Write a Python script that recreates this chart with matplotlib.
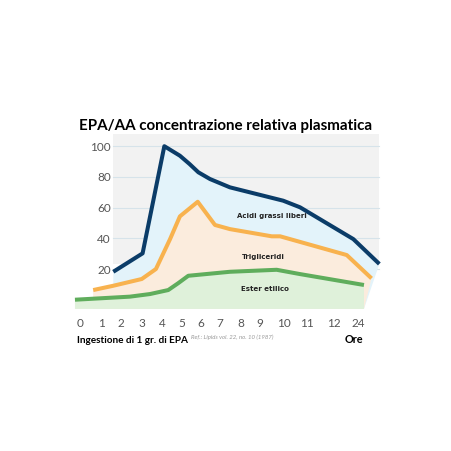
import numpy as np
import matplotlib.pyplot as plt

# Time axis: tick labels and where they sit along the (uneven) time axis
hour_labels = ['0', '1', '2', '3', '4', '5', '6', '7', '8', '9', '10', '11', '12', '24']
hour_pos = [0, 1.03, 1.98, 2.99, 4.01, 4.94, 5.88, 6.80, 7.81, 8.76, 9.94, 11.03, 12.38, 13.57]

# EPA/AA values
acidi_x = [1.60, 3.03, 4.09, 4.85, 5.32, 5.75, 6.32, 7.29, 9.89, 10.71, 13.31, 14.58]
acidi_y = [18.2, 30.2, 100, 93.8, 88.4, 83, 78.6, 73.2, 64.5, 60.2, 39.5, 23.3]

trigl_x = [0.62, 1.60, 2.99, 3.68, 4.37, 4.85, 5.72, 6.56, 7.29, 9.33, 9.74, 12.99, 14.20]
trigl_y = [6.3, 9.1, 13.5, 20, 39.5, 54.3, 63.8, 48.7, 46, 41.3, 41.3, 29.1, 13.9]

ester_x = [-0.27, 2.41, 3.39, 4.28, 4.76, 5.26, 7.29, 9.57, 10.71, 13.83]
ester_y = [0, 2, 3.7, 6.3, 10.7, 15.6, 18.2, 19.5, 16.7, 9.6]

y_ticks = [20, 40, 60, 80, 100]

# Colours
blue = '#0b3c68'
orange = '#f8b24e'
green = '#5fad5c'
blue_fill = '#e3f3fa'
orange_fill = '#fbecdd'
green_fill = '#dff1da'

fill_bottom = -6
fill_right = 13.83


def area(ax, xs, ys, line_color, fill_color, z):
    # polygon: the curve, then down to the base line
    px = list(xs) + [fill_right, xs[0]]
    py = list(ys) + [fill_bottom, fill_bottom]
    ax.fill(px, py, color=fill_color, lw=0, zorder=z)
    ax.plot(xs, ys, color=line_color, lw=2.9, solid_joinstyle='round',
            solid_capstyle='butt', zorder=z + 5)


fig = plt.figure(figsize=(4.52, 4.52), dpi=100)
# axes placed in pixels: x 70..390, y 130..315
ax = fig.add_axes([70 / 452, 1 - 315 / 452, 320 / 452, 185 / 452])
ax.set_xlim(-0.512, 15.10)
ax.set_ylim(-9.3, 111.2)

# grey panel and grid (panel stops where the blue curve ends)
ax.fill_between([acidi_x[0], acidi_x[-1]], acidi_y[-1], 108, color='#f2f2f2', lw=0, zorder=0)
for yv in y_ticks:
    ax.plot([acidi_x[0], acidi_x[-1]], [yv, yv], color='#d6e3ea', lw=0.8, zorder=1)
    ax.text(1.47, yv, str(yv), ha='right', va='center', fontsize=8.5,
            color='#555555', family='Lato')

area(ax, acidi_x, acidi_y, blue, blue_fill, 2)
area(ax, trigl_x, trigl_y, orange, orange_fill, 3)
area(ax, ester_x, ester_y, green, green_fill, 4)

ax.text(9.32, 55.5, 'Acidi grassi liberi', ha='center', va='center',
        fontsize=5, fontweight='bold', color='#222222', zorder=20)
ax.text(8.92, 28.7, 'Trigliceridi', ha='center', va='center',
        fontsize=5, fontweight='bold', color='#222222', zorder=20)
ax.text(9.0, 7.7, 'Ester etilico', ha='center', va='center',
        fontsize=5, fontweight='bold', color='#222222', zorder=20)

ax.set_xticks(hour_pos)
ax.set_xticklabels(hour_labels, family='Lato', fontsize=8.5, color='#555555')
ax.tick_params(axis='x', length=0, pad=2)
ax.set_yticks([])
for s in ax.spines.values():
    s.set_visible(False)

fig.text(226 / 452, 1 - 126 / 452, 'EPA/AA concentrazione relativa plasmatica',
         ha='center', va='center', fontsize=10.9, fontweight='bold', family='Lato')
fig.text(77 / 452, 1 - 341 / 452, 'Ingestione di 1 gr. di EPA',
         ha='left', va='center', fontsize=7.2, fontweight='bold', family='Lato')
fig.text(191 / 452, 1 - 337 / 452, 'Ref.: Lipids vol. 22, no. 10 (1987)',
         ha='left', va='center', fontsize=4.3, style='italic', color='#999999', family='Lato')
fig.text(363 / 452, 1 - 340 / 452, 'Ore',
         ha='right', va='center', fontsize=7.8, fontweight='bold', family='Lato')

plt.savefig('out.png', dpi=100)
